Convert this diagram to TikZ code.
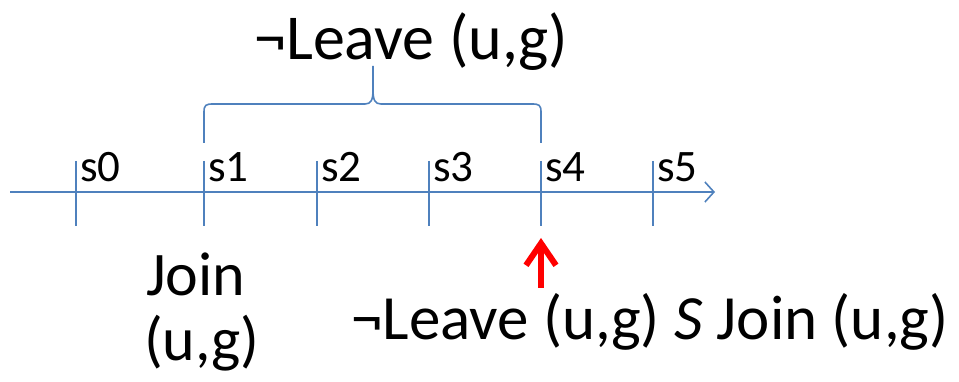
\documentclass[tikz,border=0pt]{standalone}
\usepackage{fontspec}
\setmainfont{Carlito}
\usetikzlibrary{arrows.meta}
\definecolor{axisblue}{HTML}{4F81BD}
\begin{document}
\begin{tikzpicture}[x=1pt,y=-1pt,
  axisline/.style={draw=axisblue,line width=1.6pt},
  tickline/.style={draw=axisblue,line width=1.8pt},
  slabel/.style={anchor=base west,inner sep=0pt,font=\fontsize{45}{48}\selectfont},
  biglabel/.style={inner sep=0pt,font=\fontsize{64}{66}\selectfont},
  redarrow/.style={draw=red,line width=6pt,-{Straight Barb[length=22pt,width=30pt,line width=6pt]}}]
\useasboundingbox (0,0) rectangle (959,382);
% axis
\coordinate (ax0) at (10,192);
\coordinate (ax1) at (715,192);
\draw[axisline,-{Straight Barb[length=9pt,width=20pt,line width=1.6pt]}] (ax0) -- (ax1);
% ticks and labels
\foreach \i/\x in {0/76,1/204,2/317,3/429,4/541,5/653}{
  \coordinate (t\i top) at (\x,161);
  \coordinate (t\i bot) at (\x,226);
  \draw[tickline] (t\i top) -- (t\i bot);
  \node[slabel] (s\i) at (\x+4,182) {s\i};
}
% brace
\coordinate (bl) at (204,143);
\coordinate (br) at (541,143);
\coordinate (bc) at (373,66);
\draw[axisline,line join=round] (bl) -- (204,112) .. controls (204,105) and (206,104) .. (213,104)
  -- (365,104) .. controls (371,104) and (373,100) .. (373,90) -- (bc);
\draw[axisline,line join=round] (br) -- (541,112) .. controls (541,105) and (539,104) .. (532,104)
  -- (381,104) .. controls (375,104) and (373,100) .. (373,90);
\node[biglabel,anchor=base] (top) at (411,60) {¬Leave (u,g)};
% join label
\node[biglabel,anchor=base west,font=\fontsize{62}{64}\selectfont] (join1) at (146,295) {Join};
\node[biglabel,anchor=base west,font=\fontsize{62}{64}\selectfont] (join2) at (144,360) {(u,g)};
% red arrow
\coordinate (ra0) at (541,288);
\coordinate (ra1) at (541,238);
\draw[redarrow] (ra0) -- (ra1);
\node[biglabel,anchor=base,font=\fontsize{63}{65}\selectfont] (since) at (650,339) {¬Leave (u,g) \textit{S} Join (u,g)};
\end{tikzpicture}
\end{document}
